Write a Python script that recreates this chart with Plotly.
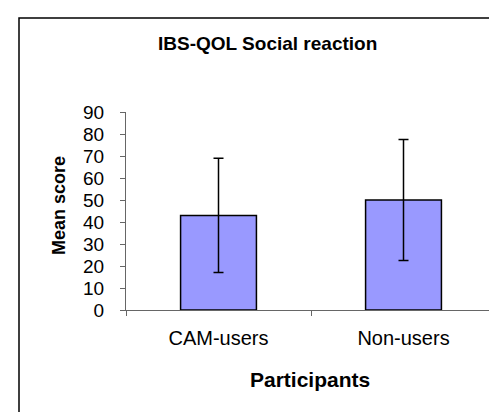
import plotly.graph_objects as go

categories = ["CAM-users", "Non-users"]
means = [43, 50]
errors = [26, 27.5]
y_ticks = [0, 10, 20, 30, 40, 50, 60, 70, 80, 90]

W, H = 497, 412
L, R, T, B = 118, 9, 104, 110

fig = go.Figure()
fig.add_trace(go.Bar(
    x=categories, y=means,
    marker=dict(color="#9999FF", line=dict(color="#000000", width=1.5)),
    width=0.41,
    error_y=dict(type="data", array=errors, visible=True, color="#000000",
                 thickness=1.5, width=5),
))

pw = W - L - R
ph = H - T - B

def px2paper_x(px):
    return (px - L) / pw

def px2paper_y(py):
    return (H - B - py) / ph

font = "Liberation Sans, Arial, sans-serif"

fig.update_layout(
    width=W, height=H,
    margin=dict(l=L, r=R, t=T, b=B, autoexpand=False),
    paper_bgcolor="white", plot_bgcolor="white",
    showlegend=False,
    font=dict(family=font, color="#000000"),
    xaxis=dict(
        type="category", showgrid=False, zeroline=False,
        showline=True, linecolor="#666666", linewidth=1,
        ticks="outside", ticklen=5, tickcolor="#666666", tickson="boundaries",
        tickfont=dict(size=20, family=font, color="#000000"),
        ticklabelstandoff=10,
        automargin=False,
    ),
    yaxis=dict(
        range=[0, 90], tickvals=y_ticks, ticktext=[str(v) for v in y_ticks],
        showgrid=False, zeroline=False,
        showline=True, linecolor="#666666", linewidth=1,
        ticks="outside", ticklen=5, tickcolor="#666666",
        tickfont=dict(size=19, family=font, color="#000000"),
        ticklabelstandoff=12,
        automargin=False,
    ),
    annotations=[
        dict(text="<b>IBS-QOL Social reaction</b>", xref="paper", yref="paper",
             x=px2paper_x(259), y=px2paper_y(35), xanchor="center", yanchor="middle",
             showarrow=False, font=dict(size=19, family=font, color="#000000")),
        dict(text="<b>Mean score</b>", xref="paper", yref="paper",
             x=px2paper_x(51), y=px2paper_y(198), xanchor="center", yanchor="middle",
             textangle=-90, showarrow=False, font=dict(size=18, family=font, color="#000000")),
        dict(text="<b>Participants</b>", xref="paper", yref="paper",
             x=px2paper_x(302), y=px2paper_y(371), xanchor="center", yanchor="middle",
             showarrow=False, font=dict(size=21, family=font, color="#000000")),
    ],
    shapes=[
        dict(type="rect", xref="paper", yref="paper",
             x0=px2paper_x(11), x1=px2paper_x(505),
             y0=px2paper_y(420), y1=px2paper_y(10),
             line=dict(color="#000000", width=1.5), fillcolor="rgba(0,0,0,0)", layer="below"),
    ],
)

fig.write_html("out.html")
